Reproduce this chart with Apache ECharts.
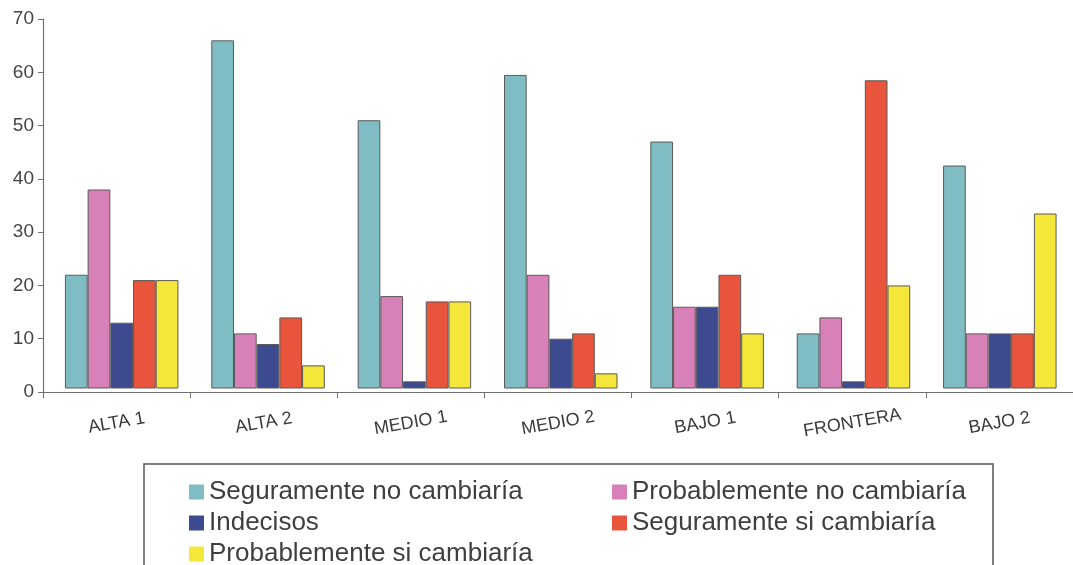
<!DOCTYPE html>
<html>
<head>
<meta charset="utf-8">
<script src="https://cdn.jsdelivr.net/npm/echarts@6/dist/echarts.min.js"></script>
<style>
  html, body { margin: 0; padding: 0; background: #ffffff; }
  #chart { width: 1073px; height: 565px; }
</style>
</head>
<body>
<div id="chart"></div>
<script>
// Intención de cambio por zona
const categories = ['ALTA 1', 'ALTA 2', 'MEDIO 1', 'MEDIO 2', 'BAJO 1', 'FRONTERA', 'BAJO 2'];
const yTicks = [0, 10, 20, 30, 40, 50, 60, 70];

const seguramenteNo = [22, 66, 51, 59.5, 47, 11, 42.5];
const probablementeNo = [38, 11, 18, 22, 16, 14, 11];
const indecisos = [13, 9, 2, 10, 16, 2, 11];
const seguramenteSi = [21, 14, 17, 11, 22, 58.5, 11];
const probablementeSi = [21, 5, 17, 3.5, 11, 20, 33.5];

const seriesNames = [
  'Seguramente no cambiaría',
  'Probablemente no cambiaría',
  'Indecisos',
  'Seguramente si cambiaría',
  'Probablemente si cambiaría'
];
const seriesValues = [seguramenteNo, probablementeNo, indecisos, seguramenteSi, probablementeSi];
const colors = ['#80bcc3', '#d880b8', '#3d4a90', '#e8553c', '#f5e63a'];

const font = "'Liberation Sans', Arial, sans-serif";

const chart = echarts.init(document.getElementById('chart'), null, { renderer: 'canvas' });

const bars = seriesNames.map((name, i) => ({
  name: name,
  type: 'bar',
  xAxisIndex: 1,
  yAxisIndex: 1,
  data: seriesValues[i],
  barWidth: 22.7,
  barGap: '0%',
  clip: true,
  itemStyle: { color: colors[i], borderColor: '#5a5a5a', borderWidth: 1 },
  emphasis: { disabled: true }
}));

// legend laid out as two columns: [column left, row index] per series
const legendSlots = [[184, 0], [607, 0], [184, 1], [607, 1], [184, 2]];
const legends = seriesNames.map((name, i) => ({
  data: [name],
  orient: 'horizontal',
  left: legendSlots[i][0],
  top: 472 + legendSlots[i][1] * 31,
  icon: 'rect',
  itemWidth: 15,
  itemHeight: 15,
  selectedMode: false,
  itemStyle: { borderWidth: 0 },
  textStyle: { fontFamily: font, fontSize: 26, color: '#3f3f3f', lineHeight: 30 }
}));

chart.setOption({
  animation: false,
  backgroundColor: '#ffffff',
  grid: [
    // visible axes
    { left: 43, right: -7, top: 19, bottom: 173 },
    // bars, drawn slightly right of the category centres and raised off the axis line
    { left: 48.5, right: -12.5, top: 19, bottom: 177 }
  ],
  xAxis: [
    {
      type: 'category',
      gridIndex: 0,
      data: categories,
      boundaryGap: true,
      axisLine: { lineStyle: { color: '#707070', width: 1.2 } },
      axisTick: { show: true, interval: 0, length: 6, lineStyle: { color: '#707070' } },
      axisLabel: {
        interval: 0,
        rotate: 10,
        align: 'center',
        verticalAlign: 'middle',
        margin: 31,
        fontFamily: font,
        fontSize: 18,
        color: '#3a3a3a'
      }
    },
    {
      type: 'category',
      gridIndex: 1,
      data: categories,
      show: false
    }
  ],
  yAxis: [
    {
      type: 'value',
      gridIndex: 0,
      min: yTicks[0],
      max: yTicks[yTicks.length - 1],
      interval: 10,
      splitLine: { show: false },
      axisLine: { show: true, lineStyle: { color: '#707070', width: 1.2 } },
      axisTick: { show: true, length: 5, lineStyle: { color: '#707070' } },
      axisLabel: { margin: 9, fontFamily: font, fontSize: 19, color: '#454545' }
    },
    {
      type: 'value',
      gridIndex: 1,
      min: 0.75,
      max: 70,
      show: false,
      splitLine: { show: false }
    }
  ],
  legend: legends,
  graphic: [
    {
      type: 'rect',
      shape: { x: 144, y: 464, width: 849, height: 130 },
      style: { fill: 'none', stroke: '#555555', lineWidth: 1.5 },
      silent: true
    }
  ],
  series: bars
});
</script>
</body>
</html>
